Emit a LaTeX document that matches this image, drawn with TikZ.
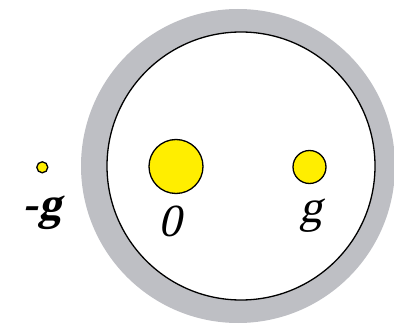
\documentclass[tikz,border=0pt]{standalone}
\usepackage{fontspec}
\setmainfont{Liberation Serif}
\newfontfamily\slantserif[FakeSlant=0.22]{Liberation Serif}
\definecolor{ringgray}{RGB}{190,191,196}
\definecolor{dotyellow}{RGB}{255,238,0}
\tikzset{
  ring/.style={circle, fill=ringgray, inner sep=0pt},
  inner/.style={circle, draw=black, line width=1.3pt, fill=white, inner sep=0pt},
  dot/.style={circle, draw=black, line width=1.3pt, fill=dotyellow, inner sep=0pt},
  lbl/.style={inner sep=0pt, font=\fontsize{46}{46}\selectfont\slantserif}
}
\begin{document}
\begin{tikzpicture}[x=1pt,y=1pt]
\useasboundingbox (0,0) rectangle (394,327);
\node[ring, minimum size=314pt] (outer) at (238,161) {};
\node[inner, minimum size=268pt] (innerc) at (241,161) {};
\node[dot, minimum size=54pt] (zero) at (176,160.5) {};
\node[dot, minimum size=33pt] (gp) at (309.5,160) {};
\node[dot, minimum size=11pt] (gm) at (42.3,159.7) {};
\node[lbl] (lzero) at (170,106) {0};
\node[lbl] (lg) at (310.5,111) {g};
\node[lbl, font=\fontsize{46}{46}\selectfont\slantserif\bfseries] (lmg) at (42,114) {-g};
\end{tikzpicture}
\end{document}
